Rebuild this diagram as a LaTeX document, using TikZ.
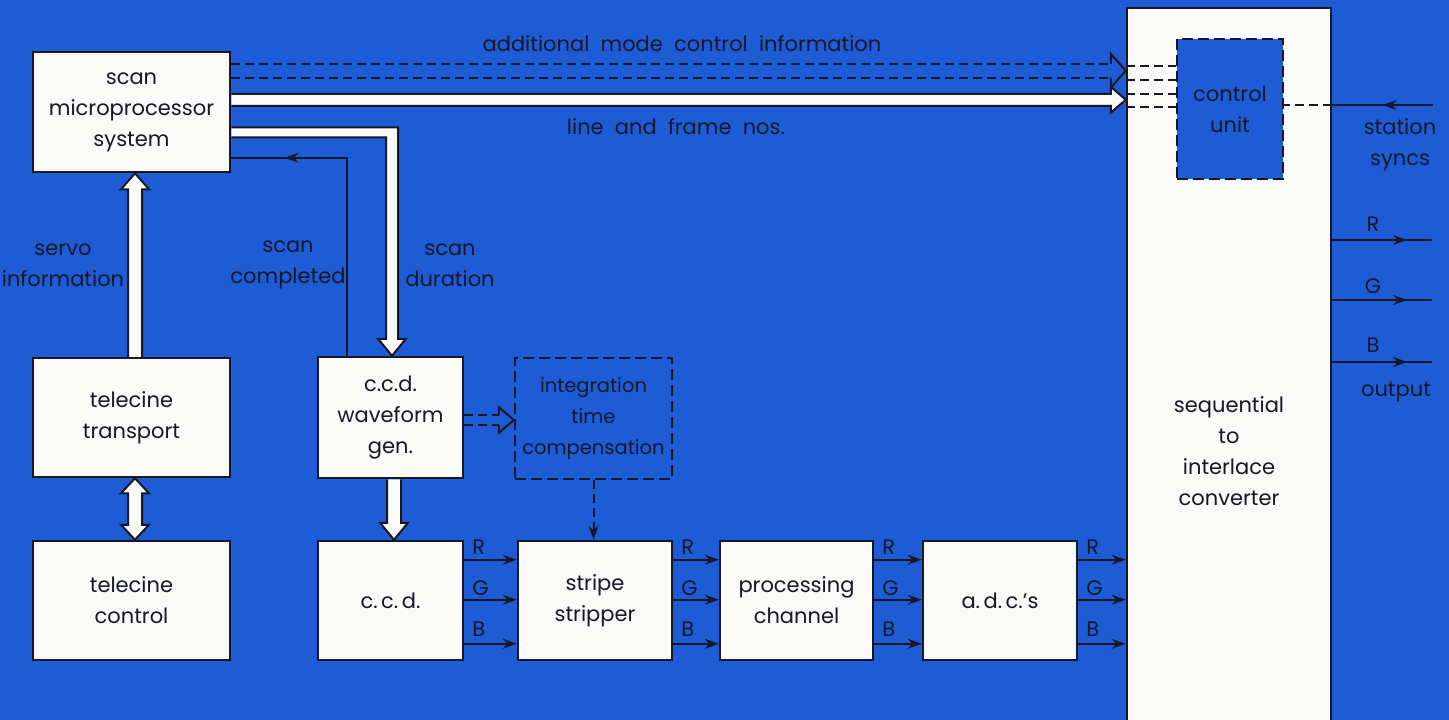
\documentclass[tikz,border=0pt]{standalone}
\usepackage{fontspec}
\setmainfont{Poppins}
\usetikzlibrary{calc,arrows.meta,decorations.markings}
\definecolor{bg}{RGB}{30,92,214}
\definecolor{ink}{RGB}{22,24,40}
\definecolor{paper}{RGB}{250,250,248}
\newcommand\dfont{\fontsize{21}{31}\selectfont}
\newcommand\sfont{\fontsize{19.5}{31}\selectfont}
\begin{document}
\begin{tikzpicture}[x=1pt,y=-1pt,
  box/.style={draw=ink, line width=2.5pt, fill=paper, align=center, text=ink, font=\dfont, inner sep=0pt},
  dbox/.style={draw=ink, line width=2.5pt, dash pattern=on 11pt off 5pt, align=center, text=ink, font=\dfont, inner sep=0pt},
  lbl/.style={text=ink, align=center, font=\dfont, inner sep=0pt},
  warrow/.style={draw=ink, line width=2pt, fill=paper, line join=miter},
  thin/.style={draw=ink, line width=2pt},
  dsh/.style={dash pattern=on 9pt off 5pt},
  tipa/.style={-{Stealth[length=14pt,width=10pt]}},
  midarrow/.style={postaction={decorate}, decoration={markings, mark=at position #1 with {\arrow{Stealth[length=14pt,width=10pt]}}}}]
\useasboundingbox (0,0) rectangle (1449,720);
\fill[bg] (0,0) rectangle (1449,720);

% converter and control unit
\node[box, minimum width=204pt, minimum height=724pt] (conv) at (1229,370) {};
\node[lbl] (convtxt) at (1229,451) {sequential\\to\\interlace\\converter};
\node[dbox, fill=bg, minimum width=106pt, minimum height=140pt] (cu) at (1230,109) {control\\unit};

% boxes
\node[box, minimum width=197pt, minimum height=120pt] (scan) at (131.5,112) {scan\\microprocessor\\system};
\node[box, minimum width=197pt, minimum height=119pt] (tt) at (131.5,417.5) {telecine\\transport};
\node[box, minimum width=197pt, minimum height=119pt] (tc) at (131.5,600.5) {telecine\\control};
\node[box, minimum width=145pt, minimum height=121pt] (wg) at (390.5,417.5) {c.c.d.\\waveform\\gen.};
\node[dbox, font=\sfont, minimum width=157pt, minimum height=121pt] (itc) at (593.5,418.5) {integration\\time\\compensation};
\node[box, minimum width=145pt, minimum height=119pt] (ccd) at (390.5,600.5) {c.\,c.\,d.};
\node[box, minimum width=154pt, minimum height=119pt] (ss) at (595,600.5) {stripe\\stripper};
\node[box, minimum width=153pt, minimum height=119pt] (pc) at (796.5,600.5) {processing\\channel};
\node[box, minimum width=154pt, minimum height=119pt] (adc) at (1000,600.5) {a.\,d.\,c.'s};

% labels
\node[lbl] (l1) at (682,44) {additional\ \ mode\ \ control\ \ information};
\node[lbl] (l2) at (676,127) {line\ \ and\ \ frame\ \ nos.};
\node[lbl] (l3) at (63,265) {servo\\information};
\node[lbl] (l4) at (288,265) {scan\\completed};
\node[lbl] (l5) at (450,265) {scan\\duration};
\node[lbl] (l6) at (1400,145) {station\\syncs};
\node[lbl] (l7) at (1396,392) {output};

% top dashed hollow arrow
\coordinate (m0) at ($(scan.north east)+(0,20)$);
\coordinate (m1) at (conv.west |- m0);
\draw[thin,dsh] ($(m0)+(0,-7)$) -- ($(m1)+(-15,-7)$);
\draw[thin,dsh] ($(m0)+(0,7)$) -- ($(m1)+(-15,7)$);
\draw[thin,line join=miter] ($(m1)+(-15,-7)$) -- ($(m1)+(-15,-17)$) -- (m1) -- ($(m1)+(-15,17)$) -- ($(m1)+(-15,7)$);

% top white arrow
\coordinate (w0) at ($(scan.north east)+(0,49)$);
\coordinate (w1) at (conv.west |- w0);
\draw[warrow] ($(w0)+(0,-6)$) -- ($(w1)+(-15,-6)$) -- ($(w1)+(-15,-13)$) -- (w1) -- ($(w1)+(-15,13)$) -- ($(w1)+(-15,6)$) -- ($(w0)+(0,6)$);

% converter to control unit dashed
\foreach \yy in {66,80,94,107}
  \draw[thin,dsh] (conv.west |- 0,\yy) -- (cu.west |- 0,\yy);

% station syncs
\coordinate (sy) at (1433,105);
\draw[thin,midarrow=0.5] (sy) -- (conv.east |- sy);
\draw[thin,dsh] (conv.east |- sy) -- (cu.east |- sy);

% scan duration
\coordinate (d0) at ($(scan.north east)+(0,81.5)$);
\coordinate (dB) at ($(wg.north)+(1.5,0)$);
\draw[warrow] ($(d0)+(0,-5)$) -- ($(dB |- d0)+(6,-5)$) -- ($(dB)+(6,-17)$) -- ($(dB)+(14,-17)$) -- (dB) -- ($(dB)+(-14,-17)$) -- ($(dB)+(-6,-17)$) -- ($(dB |- d0)+(-6,5)$) -- ($(d0)+(0,5)$);

% scan completed
\coordinate (c0) at ($(wg.north west)+(30,0)$);
\coordinate (c1) at ($(scan.north east)+(0,107)$);
\draw[thin,midarrow=0.83] (c0) -- (c0 |- c1) -- (c1);

% servo
\coordinate (sA) at ($(tt.north)+(3.5,0)$);
\coordinate (sB) at ($(scan.south)+(3.5,0)$);
\draw[warrow] ($(sA)+(-7,0)$) -- ($(sB)+(-7,16)$) -- ($(sB)+(-14,16)$) -- (sB) -- ($(sB)+(14,16)$) -- ($(sB)+(7,16)$) -- ($(sA)+(7,0)$);

% telecine double arrow
\coordinate (tA) at ($(tt.south)+(3.5,0)$);
\coordinate (tB) at ($(tc.north)+(3.5,0)$);
\draw[warrow] ($(tA)+(-7,15)$) -- ($(tA)+(-14,15)$) -- (tA) -- ($(tA)+(14,15)$) -- ($(tA)+(7,15)$) -- ($(tB)+(7,-15)$) -- ($(tB)+(14,-15)$) -- (tB) -- ($(tB)+(-14,-15)$) -- ($(tB)+(-7,-15)$) -- cycle;

% waveform gen to ccd
\coordinate (wA) at ($(wg.south)+(3.5,0)$);
\coordinate (wB) at ($(ccd.north)+(3.5,0)$);
\draw[warrow] ($(wA)+(-7,0)$) -- ($(wB)+(-7,-17)$) -- ($(wB)+(-14,-17)$) -- (wB) -- ($(wB)+(14,-17)$) -- ($(wB)+(7,-17)$) -- ($(wA)+(7,0)$);

% waveform gen to integration (dashed hollow)
\coordinate (h0) at ($(wg.east)+(0,2.5)$);
\coordinate (h1) at (itc.west |- h0);
\draw[thin,dsh] ($(h0)+(0,-5)$) -- ($(h1)+(-15,-5)$);
\draw[thin,dsh] ($(h0)+(0,5)$) -- ($(h1)+(-15,5)$);
\draw[thin,line join=miter] ($(h1)+(-15,-5)$) -- ($(h1)+(-15,-13)$) -- (h1) -- ($(h1)+(-15,13)$) -- ($(h1)+(-15,5)$);

% integration to stripe stripper
\draw[thin,dsh,tipa] (itc.south) -- (itc.south |- ss.north);

% RGB links
\foreach \s/\t in {ccd/ss, ss/pc, pc/adc, adc/conv} {
  \coordinate (r0) at ($(\s.north east)+(0,20)$);
  \coordinate (g0) at ($(\s.north east)+(0,60)$);
  \coordinate (b0) at ($(\s.north east)+(0,104)$);
  \draw[thin,tipa] (r0) -- (r0 -| \t.west);
  \draw[thin,tipa] (g0) -- (g0 -| \t.west);
  \draw[thin,tipa] (b0) -- (b0 -| \t.west);
  \node[lbl, anchor=west] at ($(\s.north east)+(8,7)$) {R};
  \node[lbl, anchor=west] at ($(\s.north east)+(8,48)$) {G};
  \node[lbl, anchor=west] at ($(\s.north east)+(8,89)$) {B};
}

% outputs
\coordinate (oR) at (1432,240);
\coordinate (oG) at (1432,300);
\coordinate (oB) at (1432,362);
\draw[thin,midarrow=0.75] (conv.east |- oR) -- (oR);
\draw[thin,midarrow=0.75] (conv.east |- oG) -- (oG);
\draw[thin,midarrow=0.75] (conv.east |- oB) -- (oB);
\node[lbl] (oRl) at (1373,224) {R};
\node[lbl] (oGl) at (1373,286) {G};
\node[lbl] (oBl) at (1373,345) {B};
\end{tikzpicture}
\end{document}
